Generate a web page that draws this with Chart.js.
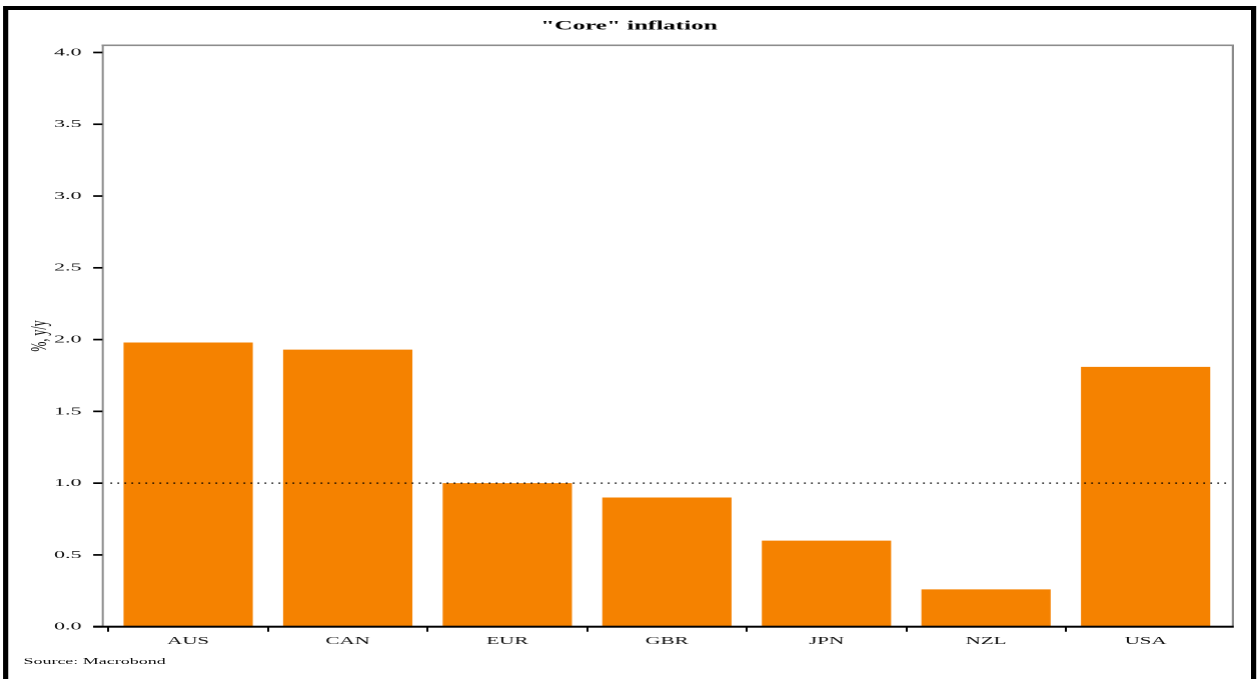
<!DOCTYPE html>
<html>
<head>
<meta charset="utf-8">
<script src="https://cdn.jsdelivr.net/npm/chart.js@4/dist/chart.umd.min.js"></script>
<style>
  html, body { margin: 0; padding: 0; background: #fff; overflow: hidden; }
  /* the source picture is stretched 2x horizontally, so draw at half width and stretch */
  #wrap { position: absolute; left: 0; top: 0; width: 628.5px; height: 679px;
          transform: scaleX(2); transform-origin: 0 0; }
  #source { position: absolute; left: 11.7px; top: 656px; font: 9px "Liberation Serif", serif; color: #111; }
</style>
</head>
<body>
<div id="wrap">
  <canvas id="chart"></canvas>
  <div id="source">Source: Macrobond</div>
</div>
<script>
const categories = ['AUS', 'CAN', 'EUR', 'GBR', 'JPN', 'NZL', 'USA'];
const coreInflation = [1.98, 1.93, 1.00, 0.90, 0.60, 0.26, 1.81];
const yTicks = [0, 0.5, 1.0, 1.5, 2.0, 2.5, 3.0, 3.5, 4.0];
const targetLine = 1.0;

// frame, axis lines, y tick marks and the dotted 1.0 line
const decorations = {
    id: 'decorations',
    afterDatasetsDraw(chart) {
        const ctx = chart.ctx;
        const area = chart.chartArea;
        const y = chart.scales.y;
        const left = area.left - 2.8, right = area.right + 3.7;
        ctx.save();
        // dotted reference line
        ctx.strokeStyle = '#000';
        ctx.lineWidth = 1.3;
        ctx.setLineDash([0.9, 2.6]);
        ctx.beginPath();
        ctx.moveTo(area.left + 1, y.getPixelForValue(targetLine));
        ctx.lineTo(area.right + 1.5, y.getPixelForValue(targetLine));
        ctx.stroke();
        ctx.setLineDash([]);
        // grey plot frame
        ctx.fillStyle = '#8c8c8c';
        ctx.fillRect(left - 0.5, area.top - 0.8, 1, area.bottom - area.top);
        ctx.fillRect(left - 0.5, area.top - 0.8, right - left + 1, 1.6);
        ctx.fillRect(right - 0.5, area.top - 0.8, 1.1, area.bottom - area.top);
        // black x axis
        ctx.fillStyle = '#000';
        ctx.fillRect(left - 4.8, area.bottom - 1, right - left + 5.3, 2);
        // y tick marks
        yTicks.forEach(v => {
            ctx.fillRect(left - 4.8, y.getPixelForValue(v) - 0.85, 4.6, 1.7);
        });
        // outer black frame
        ctx.fillRect(1.5, 6, 2.6, chart.height);
        ctx.fillRect(1.5, 6, 626, 4);
        ctx.fillRect(625, 6, 2.6, chart.height);
        ctx.restore();
    }
};

new Chart(document.getElementById('chart'), {
    type: 'bar',
    data: {
        labels: categories,
        datasets: [{
            data: coreInflation,
            backgroundColor: '#f58200',
            borderWidth: 0,
            categoryPercentage: 1,
            barPercentage: 0.81
        }]
    },
    options: {
        responsive: true,
        maintainAspectRatio: false,
        devicePixelRatio: 2,
        animation: false,
        layout: { padding: 0 },
        plugins: {
            legend: { display: false },
            tooltip: { enabled: false },
            title: {
                display: true,
                text: '"Core" inflation',
                color: '#000',
                font: { family: 'Liberation Serif', size: 12.5, weight: 'bold', lineHeight: 1.2 },
                padding: { top: 18.6, bottom: 11.7 }
            }
        },
        scales: {
            x: {
                offset: true,
                grid: {
                    offset: true,
                    drawOnChartArea: false,
                    drawTicks: true,
                    tickLength: 5,
                    lineWidth: 1,
                    // only the left edge of each category gets a tick, not the closing one
                    color: c => c.type === 'tick' ? '#000' : 'rgba(0,0,0,0)'
                },
                border: { display: false },
                ticks: {
                    color: '#111',
                    padding: 3.45,
                    font: { family: 'Liberation Serif', size: 10.5 }
                },
                afterFit(scale) { scale.height = 52.3; }
            },
            y: {
                min: 0,
                max: 4.05,
                grid: { display: false, drawTicks: false, tickLength: 0 },
                border: { display: false },
                afterBuildTicks(scale) { scale.ticks = yTicks.map(v => ({ value: v })); },
                ticks: {
                    color: '#111',
                    padding: 13.35,
                    font: { family: 'Liberation Serif', size: 11 },
                    callback: v => Number(v).toFixed(1)
                },
                title: {
                    display: true,
                    text: '%, y/y',
                    color: '#111',
                    font: { family: 'Liberation Serif', size: 12, lineHeight: 1.2 },
                    padding: { top: 12.8, bottom: 0 }
                },
                afterFit(scale) { scale.width = 54.15; }
            },
            // empty spacer on the right so the title stays centred on the whole figure
            spacer: {
                type: 'linear',
                position: 'right',
                grid: { display: false, drawTicks: false },
                border: { display: false },
                ticks: { display: false },
                afterFit(scale) { scale.width = 16.3; }
            }
        }
    },
    plugins: [decorations]
});
</script>
</body>
</html>
